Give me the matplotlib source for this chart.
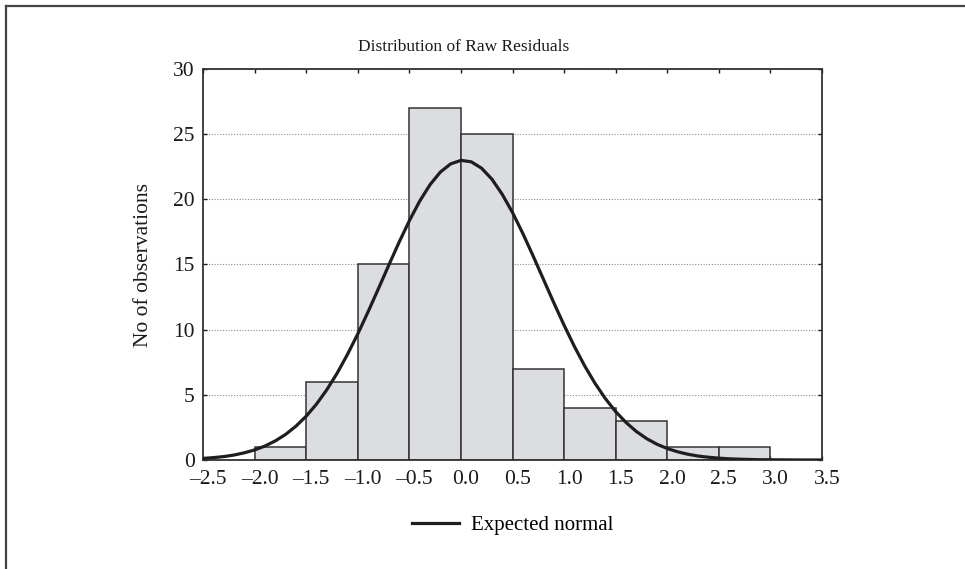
import matplotlib
matplotlib.use("Agg")
import matplotlib.pyplot as plt
from matplotlib.lines import Line2D
from matplotlib.transforms import ScaledTranslation

plt.rcParams['font.family'] = ['Liberation Serif', 'DejaVu Serif']

# histogram of raw residuals (bin edges and counts)
bin_edges = [-2.0, -1.5, -1.0, -0.5, 0.0, 0.5, 1.0, 1.5, 2.0, 2.5, 3.0]
counts = [1, 6, 15, 27, 25, 7, 4, 3, 1, 1]

# expected normal curve (step 0.1 from -2.5 to 3.5)
curve_x = [round(-2.5 + 0.1 * i, 1) for i in range(61)]
curve_y = [0.12, 0.18, 0.26, 0.38, 0.55, 0.77, 1.07, 1.46, 1.96, 2.59,
           3.36, 4.29, 5.39, 6.66, 8.10, 9.67, 11.37, 13.14, 14.94, 16.70,
           18.36, 19.86, 21.12, 22.09, 22.72, 22.99, 22.88, 22.39, 21.55, 20.39,
           18.99, 17.38, 15.65, 13.86, 12.07, 10.34, 8.71, 7.21, 5.88, 4.71,
           3.71, 2.88, 2.19, 1.64, 1.21, 0.88, 0.63, 0.44, 0.30, 0.21,
           0.14, 0.09, 0.06, 0.04, 0.02, 0.015, 0.01, 0.005, 0.0, 0.0, 0.0]

xticks = [-2.5, -2.0, -1.5, -1.0, -0.5, 0.0, 0.5, 1.0, 1.5, 2.0, 2.5, 3.0, 3.5]
yticks = [0, 5, 10, 15, 20, 25, 30]

fig = plt.figure(figsize=(9.65, 5.69), dpi=100)
ax = fig.add_axes([0.2104, 0.1916, 0.6414, 0.6871])

widths = [b - a for a, b in zip(bin_edges[:-1], bin_edges[1:])]
ax.bar(bin_edges[:-1], counts, width=widths, align='edge',
       color='#dcdde0', edgecolor='#333333', linewidth=1.1, zorder=2)
ax.plot(curve_x, curve_y, color='#1e1e1e', linewidth=2.3, zorder=3)

ax.set_xlim(-2.5, 3.5)
ax.set_ylim(0, 30)
ax.set_xticks(xticks)
ax.set_xticklabels([f"{v:.1f}".replace('-', '\u2013') for v in xticks])
ax.set_yticks(yticks)
ax.yaxis.grid(True, linestyle=(0, (1, 1.5)), color='#8a8a8a', linewidth=0.8, zorder=0)
ax.set_axisbelow(True)
ax.tick_params(direction='in', length=3, width=1, top=True, right=True,
               labelsize=15.5, colors='#1a1a1a', pad=7)
ax.tick_params(axis='y', pad=6)
shift = ScaledTranslation(5 / 100, 0, fig.dpi_scale_trans)
for lab in ax.get_xticklabels():
    lab.set_transform(lab.get_transform() + shift)
for sp in ax.spines.values():
    sp.set_linewidth(1.3)
    sp.set_color('#333333')

fig.text(143 / 965, 1 - 265 / 569, "No of observations", rotation=90,
         ha='center', va='center', fontsize=15.5, color='#1a1a1a')
fig.text(0.48, 0.917, "Distribution of Raw Residuals", ha='center', va='center',
         fontsize=12.5, color='#1a1a1a')

handle = Line2D([], [], color='#1e1e1e', linewidth=2.3)
fig.legend([handle], ["Expected normal"], loc='center', bbox_to_anchor=(0.531, 0.077),
           frameon=False, fontsize=15, handlelength=2.3, handletextpad=0.55)

# outer frame (left and top edges)
fig.add_artist(Line2D([0.0067, 0.0067], [0, 0.9895], transform=fig.transFigure,
                      color='#444444', linewidth=1.6))
fig.add_artist(Line2D([0.0067, 1.0], [0.9895, 0.9895], transform=fig.transFigure,
                      color='#444444', linewidth=1.6))

fig.savefig("out.png", dpi=100)
